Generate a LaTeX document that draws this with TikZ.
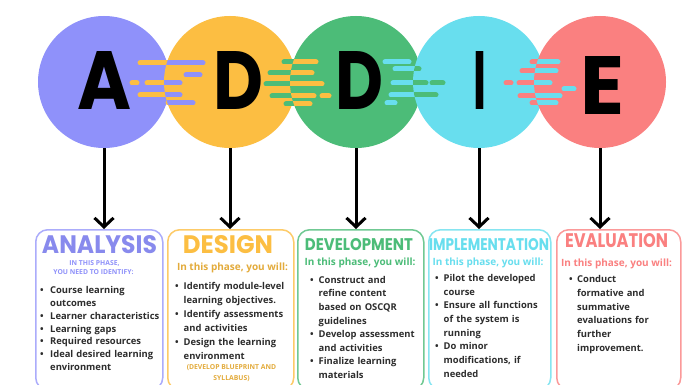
\documentclass[tikz,border=0pt]{standalone}
\usepackage{fontspec}
\setmainfont{Open Sans}
\newfontfamily\titlefont{Poppins}
\usetikzlibrary{arrows.meta}
\definecolor{cA}{RGB}{143,145,250}
\definecolor{cD}{RGB}{252,190,66}
\definecolor{cV}{RGB}{76,188,120}
\definecolor{cI}{RGB}{104,222,238}
\definecolor{cE}{RGB}{250,128,128}
\definecolor{bodyc}{RGB}{45,45,45}
\newlength\bulind
\setlength\bulind{8.5pt}
\newcommand\bi{\par\hangindent=\bulind\hangafter=1\noindent\makebox[\bulind][l]{\rule{0pt}{7.5pt}\textbullet}}
\newcommand\nl{\hfil\break}
\newcommand\speed[4]{%
  \begin{scope}[shift={(#1-64,82)}]
    \foreach \yy/\xa/\xb in {#4} \draw[bar,draw=#3] (\xa,\yy) -- (\xb,\yy);
    \begin{scope}
      \clip (64,0) circle[radius=66pt];
      \foreach \yy/\xa/\xb in {#4} \draw[bar,draw=#2] (\xa,\yy) -- (\xb,\yy);
    \end{scope}
  \end{scope}}
\begin{document}
\begin{tikzpicture}[x=1pt,y=-1pt,
  circ/.style={circle,minimum size=132pt,inner sep=0pt,fill=#1},
  bigletter/.style={anchor=base,inner sep=0pt,text=black},
  phasebox/.style={draw=#1,line width=1.5pt,rounded corners=12pt,anchor=north west,inner sep=0pt,minimum height=160pt},
  arr/.style={line width=3pt,-{Straight Barb[length=9pt,width=19pt,line width=3pt]}},
  bar/.style={line width=5pt,line cap=round},
  ttl/.style={anchor=base,inner sep=0pt,text=#1},
  sub/.style={anchor=base,inner sep=0pt,text=#1,font=\bfseries\fontsize{10}{12}\selectfont},
  tiny/.style={anchor=base,inner sep=0pt,text=#1,font=\bfseries\fontsize{6.8}{8}\selectfont},
  list/.style={anchor=north west,inner sep=0pt,align=left,text width=150pt,text=bodyc,font=\bfseries\fontsize{9.4}{#1}\selectfont}]
\useasboundingbox (0,0) rectangle (696,385);
\fill[white] (0,0) rectangle (696,385);
% circles
\node[circ=cA] (cA) at (104,82) {};
\node[circ=cD] (cD) at (230,82) {};
\node[circ=cV] (cV) at (356,82) {};
\node[circ=cI] (cI) at (479,82) {};
\node[circ=cE] (cE) at (600,82) {};
% speed lines
\speed{230}{cA}{cD}{-19/-26/37, -7/20/34, 1/-34/-29, 1/-19/14, 13/-26/14, 21/2/27}
\speed{356}{cD}{cV}{-20/-8/24, -9/-22/20, 2/-26/30, 14/-20/22, 14/30/37, 22/-6/18}
\speed{479}{cV}{cI}{-20/-30/-6, -13/-20/4, 1/-22/11, 1/17/28, 13/-24/21, 21/-28/-20}
\speed{600}{cI}{cE}{-20/-4/22, -11/-14/20, 1/-30/-25, 1/-17/14, 7/28/38, 14/-16/24, 21/-4/20}
% big letters
\node[bigletter] (lA) at (105,110) {\resizebox{54pt}{58pt}{\titlefont\bfseries A}};
\node[bigletter] (lD) at (238,110) {\resizebox{50pt}{58pt}{\titlefont\bfseries D}};
\node[bigletter] (lV) at (359,110) {\resizebox{48pt}{58pt}{\titlefont\bfseries D}};
\node[bigletter] (lI) at (480,110) {\resizebox{13pt}{58pt}{\titlefont\bfseries I}};
\node[bigletter] (lE) at (603,115) {\resizebox{44pt}{58pt}{\titlefont\bfseries E}};
% boxes
\node[phasebox=cA!75,minimum width=127pt] (bA) at (35,229) {};
\node[phasebox=cD!80,minimum width=126pt] (bD) at (167,229) {};
\node[phasebox=cV!80,minimum width=126pt] (bV) at (297,229) {};
\node[phasebox=cI!80,minimum width=122pt] (bI) at (428,229) {};
\node[phasebox=cE!80,minimum width=124pt] (bE) at (556,229) {};
% arrows
\draw[arr] (cA.south) -- (cA.south |- bA.north);
\draw[arr] (cD.south) -- (cD.south |- bD.north);
\draw[arr] (cV.south) -- (cV.south |- bV.north);
\draw[arr] (cI.south) -- (cI.south |- bI.north);
\draw[arr] (cE.south) -- (cE.south |- bE.north);
% titles
\node[ttl=cA!95!black] (tA) at (99.5,253) {\resizebox{115pt}{18pt}{\titlefont\bfseries ANALYSIS}};
\node[ttl=cD] (tD) at (228,253) {\resizebox{90pt}{18pt}{\titlefont\bfseries DESIGN}};
\node[ttl=cV] (tV) at (359,250) {\resizebox{108pt}{12pt}{\titlefont\bfseries DEVELOPMENT}};
\node[ttl=cI] (tI) at (489,250) {\resizebox{120pt}{12pt}{\titlefont\bfseries IMPLEMENTATION}};
\node[ttl=cE] (tE) at (616.5,247) {\resizebox{103pt}{14pt}{\titlefont\bfseries EVALUATION}};
% subtitles
\node[tiny=cA] (sA1) at (94.5,265.5) {IN THIS PHASE,};
\node[tiny=cA] (sA2) at (93.5,274.5) {YOU NEED TO IDENTIFY:};
\node[sub=cD!90!black] (sD) at (232.5,270) {In this phase, you will:};
\node[sub=cV] (sV) at (360,265) {In this phase, you will:};
\node[sub=cI] (sI) at (488,265) {In this phase, you will:};
\node[sub=cE] (sE) at (616.5,266) {In this phase, you will:};
\node[tiny=cD!90!black] (fD1) at (231.5,369.5) {(DEVELOP BLUEPRINT AND};
\node[tiny=cD!90!black] (fD2) at (231.5,380.5) {SYLLABUS)};
% lists
\node[list=12.7] (lsA) at (40,281) {\setlength\bulind{10pt}%
\bi Course learning\nl outcomes
\bi Learner characteristics
\bi Learning gaps
\bi Required resources
\bi Ideal desired learning\nl environment\par};
\node[list=14] (lsD) at (175,275) {%
\bi Identify module-level\nl learning objectives.
\bi Identify assessments\nl and activities
\bi Design the learning\nl environment\par};
\node[list=13.6] (lsV) at (310,269.5) {%
\bi Construct and\nl refine content\nl based on OSCQR\nl guidelines
\bi Develop assessment\nl and activities
\bi Finalize learning\nl materials\par};
\node[list=13.7] (lsI) at (435,267.5) {%
\bi Pilot the developed\nl course
\bi Ensure all functions\nl of the system is\nl running
\bi Do minor\nl modifications, if\nl needed\par};
\node[list=13.8] (lsE) at (569,268.5) {\setlength\bulind{8pt}%
\bi Conduct\nl formative and\nl summative\nl evaluations for\nl further\nl improvement.\par};
\end{tikzpicture}
\end{document}
